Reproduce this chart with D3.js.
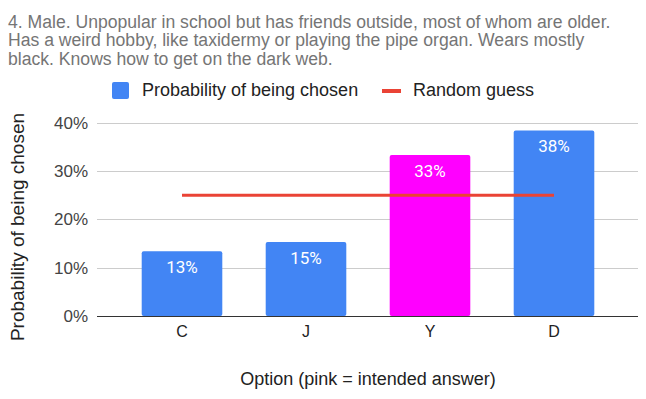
<!DOCTYPE html>
<html>
<head>
<meta charset="utf-8">
<script src="https://cdn.jsdelivr.net/npm/d3@7"></script>
<style>
  body { margin: 0; background: #fff; }
  text { font-family: Arial, "Liberation Sans", sans-serif; }
</style>
</head>
<body>
<div id="chart"></div>
<script>
const titleLines = [
  "4. Male. Unpopular in school but has friends outside, most of whom are older.",
  "Has a weird hobby, like taxidermy or playing the pipe organ. Wears mostly",
  "black. Knows how to get on the dark web."
];
const options = ["C", "J", "Y", "D"];
const chosen = [0.134, 0.153, 0.333, 0.384];
const intended = ["Y"];
const randomGuess = [0.25, 0.25, 0.25, 0.25];
const yTicks = [0, 0.1, 0.2, 0.3, 0.4];

const width = 646, height = 399;
const svg = d3.select("#chart").append("svg")
  .attr("width", width)
  .attr("height", height);

// title (tightly packed lines, like the original)
svg.append("g").selectAll("text")
  .data(titleLines)
  .join("text")
  .attr("x", 8)
  .attr("y", (d, i) => 28 + i * 18.3)
  .attr("fill", "#757575")
  .style("font-size", "17.6px")
  .text(d => d);

// legend
const legend = svg.append("g");
legend.append("rect")
  .attr("x", 112).attr("y", 82).attr("width", 17).attr("height", 17).attr("rx", 2)
  .attr("fill", "#4285f4");
legend.append("text")
  .attr("x", 142).attr("y", 96)
  .attr("fill", "#222").style("font-size", "18px")
  .text("Probability of being chosen");
legend.append("rect")
  .attr("x", 382).attr("y", 89).attr("width", 19).attr("height", 4)
  .attr("fill", "#ea4335");
legend.append("text")
  .attr("x", 413).attr("y", 96)
  .attr("fill", "#222").style("font-size", "18px")
  .text("Random guess");

const x = d3.scaleBand()
  .domain(options)
  .range([141.7, 594.3])
  .paddingInner(0.35)
  .paddingOuter(0);

const y = d3.scaleLinear()
  .domain([0, 0.4])
  .range([316, 122.7]);

// gridlines
svg.append("g").selectAll("line")
  .data(yTicks.filter(d => d > 0))
  .join("line")
  .attr("x1", 97).attr("x2", 638)
  .attr("y1", d => Math.round(y(d)) + 0.5)
  .attr("y2", d => Math.round(y(d)) + 0.5)
  .attr("stroke", "#cccccc");

// y axis labels
const yAxis = svg.append("g")
  .attr("transform", "translate(97,0)")
  .call(d3.axisLeft(y).tickValues(yTicks).tickFormat(d3.format(".0%")).tickSize(0).tickPadding(9));
yAxis.select(".domain").remove();
yAxis.selectAll("text")
  .attr("fill", "#444")
  .style("font-size", "17px")
  .style("font-family", "Arial, 'Liberation Sans', sans-serif");

// bars
svg.append("g").selectAll("rect")
  .data(options)
  .join("rect")
  .attr("x", d => x(d))
  .attr("y", (d, i) => y(chosen[i]))
  .attr("width", x.bandwidth())
  .attr("height", (d, i) => y(0) - y(chosen[i]))
  .attr("rx", 2)
  .attr("fill", d => intended.includes(d) ? "#ff00ff" : "#4285f4");

// bar labels
svg.append("g").selectAll("text")
  .data(options)
  .join("text")
  .attr("x", d => x(d) + x.bandwidth() / 2)
  .attr("y", (d, i) => y(chosen[i]) + 22)
  .attr("text-anchor", "middle")
  .attr("fill", "#fff")
  .style("font-family", "Roboto, Arial, sans-serif")
  .style("font-size", "17px")
  .text((d, i) => d3.format(".0%")(chosen[i]));

// baseline
svg.append("line")
  .attr("x1", 97).attr("x2", 638)
  .attr("y1", y(0) + 0.5).attr("y2", y(0) + 0.5)
  .attr("stroke", "#333");

// random guess line
const line = d3.line()
  .x((d, i) => x(options[i]) + x.bandwidth() / 2)
  .y(d => y(d));
svg.append("path")
  .datum(randomGuess)
  .attr("d", line)
  .attr("fill", "none")
  .attr("stroke", "#ea4335")
  .attr("stroke-width", 3);

// x axis labels
const xAxis = svg.append("g")
  .attr("transform", `translate(0,${y(0)})`)
  .call(d3.axisBottom(x).tickSize(0).tickPadding(10));
xAxis.select(".domain").remove();
xAxis.selectAll("text")
  .attr("fill", "#222")
  .style("font-size", "16px")
  .style("font-family", "Arial, 'Liberation Sans', sans-serif");

// axis titles
svg.append("text")
  .attr("x", 368).attr("y", 385)
  .attr("text-anchor", "middle")
  .attr("fill", "#222").style("font-size", "18px")
  .text("Option (pink = intended answer)");

svg.append("text")
  .attr("transform", "translate(24,227) rotate(-90)")
  .attr("text-anchor", "middle")
  .attr("fill", "#222").style("font-size", "19px")
  .text("Probability of being chosen");
</script>
</body>
</html>
